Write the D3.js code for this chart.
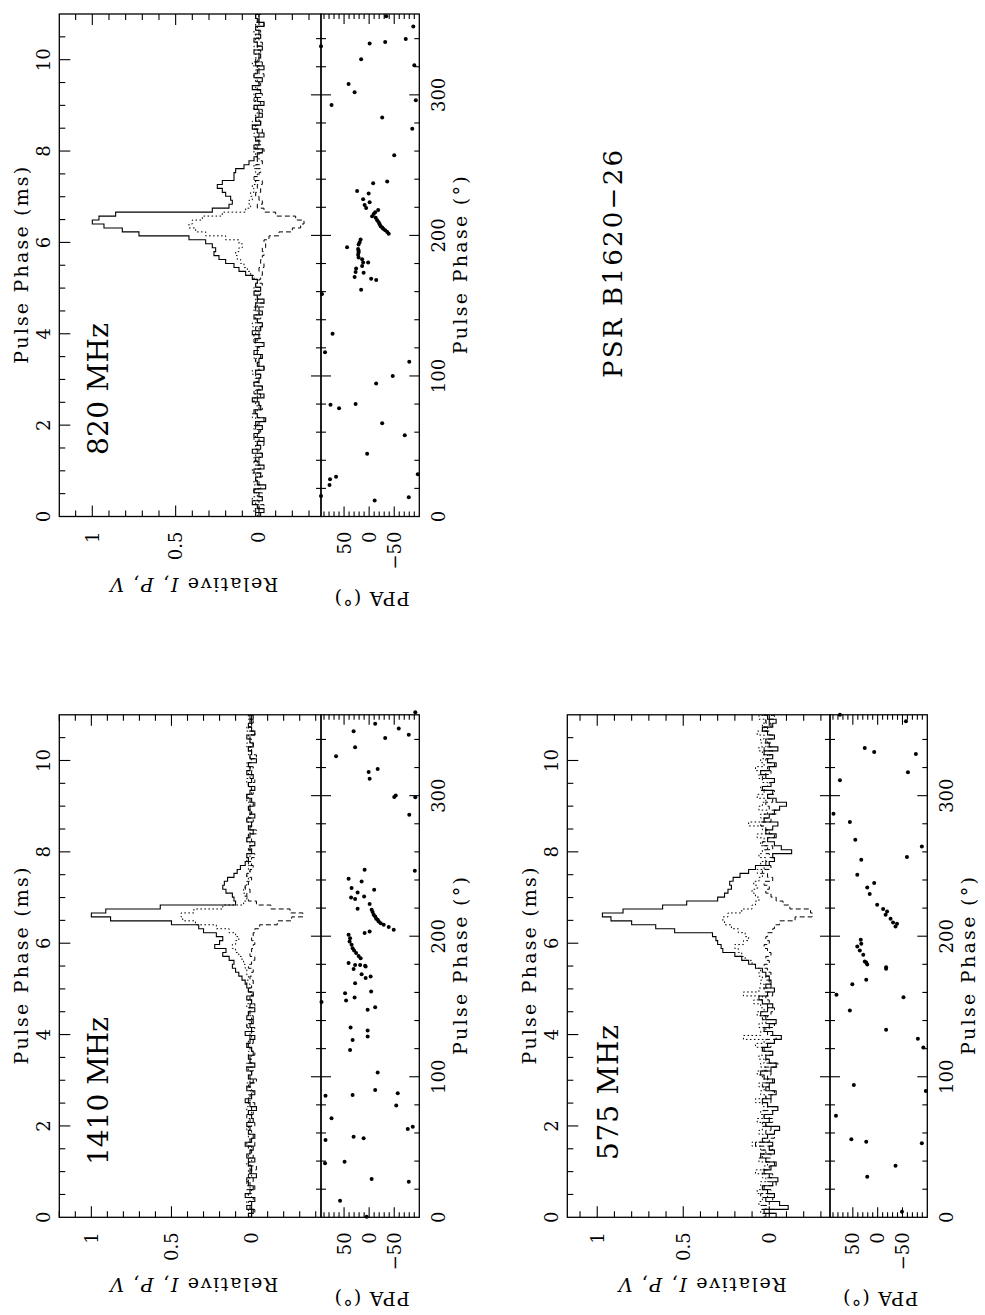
<!DOCTYPE html>
<html><head><meta charset="utf-8">
<script src="https://cdn.jsdelivr.net/npm/d3@7"></script>
<style>
body{margin:0;background:#fff}
text{font-family:"DejaVu Serif","Liberation Serif",serif;fill:#000}
</style>
</head><body>
<svg id="c" width="985" height="1315"></svg>
<script>
// ---------------- data ----------------
const PERIOD_MS = 11.076;          // pulsar period (ms) -> 360 deg
const NBINS = 128;                 // profile bins per period
const msTicks = [0,2,4,6,8,10];
const degTicks = [0,100,200,300];
const intTicks = [0,0.5,1];
const ppaTicks = [-50,0,50];
const freqLabels = ["820 MHz","1410 MHz","575 MHz"];
const title = "PSR B1620\u221226";

// profiles in percent of peak; I = total, L = linear, V = circular
const I820 = [
2,-3,1,4,-2,0,3,-4,1,2,-1,3,-3,0,2,-2,4,-1,1,-3,
3,0,-2,2,-4,1,3,-1,0,4,-3,1,-2,3,0,-1,2,-3,1,0,
-2,3,1,-3,2,0,4,-1,-2,1,3,-2,0,2,-3,1,3,-1,2,1,
4,8,12,15,20,24,27,26,28,32,42,72,82,93,100,96,86,28,18,16,
17,20,22,25,22,15,15,14,9,6,3,1,-2,3,0,2,-3,1,4,-1,
2,-2,0,3,-3,1,2,-1,4,0,-2,3,1,-3,2,0,-1,3,-2,1,
3,-1,0,2,-3,1,2,0];
const L820 = [
1,3,0,2,4,1,2,0,3,1,2,4,0,1,3,2,0,2,1,3,
2,0,3,1,2,4,1,0,2,3,1,2,0,3,1,2,4,0,1,2,
3,1,0,2,1,3,2,0,4,1,2,0,3,1,2,1,0,3,2,1,
3,5,7,9,11,13,14,12,10,12,20,32,38,42,40,34,22,8,5,6,
4,5,3,4,2,3,1,2,3,1,0,2,3,1,2,0,3,1,2,4,
0,2,1,3,0,2,3,1,2,0,1,3,2,0,4,1,2,0,3,1,
2,0,3,1,2,1,0,2];
const V820 = [
-1,2,-3,0,1,-2,3,-1,0,2,-2,1,-1,3,0,-2,1,2,-3,0,
1,-1,2,0,-3,1,2,-2,0,1,-1,3,-2,0,2,-1,1,-3,0,2,
-1,1,0,-2,3,-1,0,2,-2,1,-1,0,2,-3,1,0,-1,2,-2,0,
-1,-2,0,-3,-1,-2,-3,-2,-4,-3,-6,-12,-20,-25,-27,-22,-10,-3,1,-2,
0,2,-1,1,-2,3,0,-1,2,-2,1,0,-3,2,-1,1,0,-2,3,-1,
2,0,-2,1,-1,3,-2,0,1,-1,2,-3,0,1,-2,2,0,-1,1,-2,
0,2,-1,1,-3,0,2,-1];

const I1410 = [
2,-1,3,0,-2,4,1,-1,2,3,-3,1,0,2,-2,3,1,-1,4,0,
-2,2,1,3,-1,0,2,-3,1,4,0,-2,3,1,-1,2,0,3,-2,1,
2,-1,0,3,1,-2,4,0,1,-1,3,2,-2,1,0,3,-1,2,3,4,
6,8,10,12,11,14,18,16,23,20,18,22,30,33,50,88,100,91,57,10,
11,12,16,18,17,15,11,9,7,4,2,3,0,1,-2,3,1,-1,2,0,
3,-2,1,2,-1,0,3,1,-2,2,0,-1,3,1,2,-3,1,0,2,-1,
1,3,-2,0,2,1,-1,2];
const L1410 = [
1,2,0,3,1,2,0,1,3,2,0,2,1,3,0,2,1,0,3,1,
2,1,3,0,2,1,0,3,2,1,2,0,1,3,1,2,0,2,3,1,
0,2,1,3,2,0,1,2,3,1,0,2,1,3,2,1,0,2,1,3,
2,3,3,4,5,6,8,10,12,10,8,10,14,22,35,43,44,36,18,5,
3,4,5,4,3,2,3,1,2,0,3,1,2,0,1,3,2,1,0,2,
3,1,0,2,1,3,2,0,1,2,3,0,2,1,3,0,1,2,0,3,
1,2,0,3,1,0,2,1];
const V1410 = [
0,-2,1,2,-1,0,3,-2,1,-1,2,0,-3,1,2,-1,0,2,-2,1,
-1,0,2,-2,1,3,-1,0,-2,2,1,-1,0,2,-3,1,0,-1,2,0,
1,-2,0,2,-1,1,0,-2,3,0,-1,1,2,-2,0,1,-1,2,0,-1,
1,0,-1,2,0,-2,1,0,-1,-2,0,-1,-2,-5,-16,-25,-32,-24,-12,-3,
2,3,1,4,2,0,3,1,-1,2,0,-2,1,2,-1,0,2,-3,1,0,
-1,2,0,1,-2,1,3,-1,0,2,-2,1,0,-1,2,1,-3,0,2,-1,
0,1,-2,2,0,-1,1,0];

const I575 = [
-4,3,-11,-6,2,-3,1,4,-2,-5,
0,3,-1,-4,2,5,-3,0,-2,4,
1,-3,-6,2,0,3,-2,-5,1,4,
-1,-4,2,0,-3,3,5,-1,-4,0,
2,-2,4,1,-3,-7,-2,3,0,-4,
2,5,1,-2,4,6,1,-3,2,-1,
0,2,4,8,12,16,20,27,28,30,
31,33,55,66,80,92,97,85,62,48,
30,26,24,22,23,21,17,12,8,0,
-3,-2,-13,-7,-3,1,-4,2,-2,-5,
3,0,-3,-6,-10,-4,1,-2,4,-1,
-3,2,5,0,-4,1,-2,3,-5,0,
2,-3,1,4,-2,-4,1,3];
const L575 = [
3,5,2,6,4,1,7,3,5,2,
4,8,3,1,6,4,2,5,10,3,
1,6,4,2,7,3,5,1,4,8,
2,5,3,6,1,4,7,2,5,3,
6,2,4,8,3,15,5,2,6,4,
1,7,3,5,9,4,15,6,3,5,
4,6,5,8,10,14,16,18,20,15,
12,14,18,22,26,27,24,16,10,8,
6,8,10,7,9,6,4,7,3,5,
2,6,4,1,5,3,7,2,4,12,
3,5,1,6,4,2,7,3,5,1,
4,6,2,8,3,5,1,4,6,2,
5,3,7,1,4,2,6,3];
const V575 = [
2,-3,4,0,-2,5,-1,3,-4,1,
-2,4,0,-3,2,-1,5,-2,8,0,
-3,2,-1,4,-2,0,3,-4,1,-1,
2,-3,0,4,-2,1,-1,3,-5,2,
0,-2,3,-1,2,-4,1,0,-3,2,
4,-1,-3,1,0,2,-2,3,-1,0,
2,-1,1,3,0,2,-1,1,3,0,
2,1,-2,-3,-6,-15,-25,-24,-12,-8,
-4,-1,2,0,3,-2,1,4,-1,2,
-3,0,2,-2,4,1,-3,0,2,5,
-1,3,-4,0,2,-2,1,-3,3,0,
-2,4,-1,1,-3,2,0,-2,3,-1,
1,-2,0,3,-1,2,-3,0];

// PPA points: [pulse phase (deg), PPA (deg)]
const ppa820 = [[355.9,-34],[348.7,-88],[334.5,96],[339.8,-73],[336.6,-1],[337.6,-32],[321,-90],[325.3,16],[307.7,41],[301.9,29],[296.1,-93],[292.8,75],[283.9,-26],[275.9,-86],[257.1,-50],[237.1,-8],[238.3,-36],[231.6,24],[229.9,1],[225.8,12],[223.6,-1],[221.7,9],[219.5,6],[218.1,-18],[216.5,-12],[215.2,-9],[213.7,-6],[212.5,-13],[210.8,-16],[209.4,-19],[208,-21],[206.5,-23],[205.6,-26],[204.8,-28],[203.6,-32],[202.4,-36],[201.2,-39],[197.1,17],[195.2,19],[193.5,21],[191.6,44],[190.4,22],[189.2,21],[188,21],[186.3,22],[184.3,21],[183.1,14],[180.7,12],[180.7,2],[178.3,14],[176.4,26],[174,27],[173.5,11],[169.2,-4],[168.2,-14],[170.4,29],[161.4,16],[158.3,94],[130.1,73],[116.9,88],[110.1,-80],[100,-47],[94.7,-14],[79.5,77],[80,27],[77.1,60],[66.3,-26],[57.8,-71],[44.6,4],[26.5,78],[28.2,66],[22.4,79],[30.1,-97],[14.5,96],[11.3,-11],[13.7,-79]];
const ppa1410 = [[359.3,-92],[351.2,-12],[347.7,-59],[345.8,31],[343.4,-79],[341,-32],[334.4,28],[328,66],[316.8,1],[319,-17],[312,-1],[299,-50],[300.2,-53],[298.8,-92],[286.4,-80],[246.6,-91],[247.3,9],[240.9,41],[239,15],[234.3,35],[231.1,23],[227.6,36],[226.4,28],[228.3,10],[233,-10],[219.5,23],[223,-1],[218.8,-5],[217.2,-7],[215.2,-9],[214,-12],[212.4,-14],[211.7,-17],[210.5,-19],[209.3,-23],[208.1,-29],[206.5,-39],[204.6,-49],[203.4,-1],[202.2,9],[201,41],[198.6,38],[196.2,39],[193.9,35],[191.5,33],[189.8,30],[188,26],[186,21],[184.4,17],[180.9,41],[179.6,28],[178.9,8],[176.6,31],[179.6,18],[178.4,7],[173,15],[170.2,7],[171.3,-3],[166.6,28],[159.5,48],[154.2,46],[156.4,29],[160.6,-4],[147.6,3],[149.5,-12],[153.1,95],[135,37],[132.9,3],[128.6,3],[126.2,33],[119.1,38],[103,-17],[86.4,87],[87.1,33],[90.6,-12],[88.3,-57],[79.5,-54],[70.5,75],[62.9,-77],[64.5,-87],[55,87],[57.4,31],[56.2,11],[38.4,88],[39.6,49],[27.3,-5],[25.3,-79],[11.8,58],[0.4,5]];
const ppa575 = [[357.6,76],[352.9,-57],[333.9,26],[331.1,7],[329.7,-77],[316.6,-61],[310.9,76],[287.1,89],[281.2,56],[268.6,45],[263.9,-89],[254.4,33],[256.3,-59],[243.7,41],[234.7,21],[237.8,7],[230,16],[222.4,1],[219.3,-11],[217.6,-19],[215.2,-16],[212.4,-26],[209.8,-31],[208.8,-39],[206.9,-36],[197.4,34],[192.7,41],[194.6,33],[189.8,36],[186.8,29],[182,26],[178,-17],[181.3,23],[179.9,21],[176.8,-17],[165.9,51],[169,23],[158.3,83],[156.6,-52],[147.1,56],[133.4,-17],[127,-81],[120.8,-92],[94.2,48],[89.9,-97],[72.3,84],[55.5,53],[53.8,23],[52.7,-89],[36.7,-36],[28.9,21],[4,-49]];

// ---------------- layout (landscape coords, page rotated -90deg) ----------------
const W = 502.5;
const panels = [
  {key:"a", X0:798.5, pt:59.3, pm:321, pb:419.3, dom:[-0.372,1.198], I:I820, L:L820, V:V820, P:ppa820, label:freqLabels[0], lx:860, ly:108, lw:132},
  {key:"b", X0:97.7,  pt:59.3, pm:321, pb:419.3, dom:[-0.433,1.2],   I:I1410, L:L1410, V:V1410, P:ppa1410, label:freqLabels[1], lx:150, ly:108, lw:148},
  {key:"c", X0:97.7,  pt:567.3, pm:830, pb:927.3, dom:[-0.353,1.174], I:I575, L:L575, V:V575, P:ppa575, label:freqLabels[2], lx:155, ly:618, lw:135}
];

const svg = d3.select("#c");
svg.append("rect").attr("width",985).attr("height",1315).attr("fill","#fff");
const defs = svg.append("defs");
const root = svg.append("g").attr("transform","translate(0,1315) rotate(-90)");

function seg(g,x1,y1,x2,y2,w){
  g.append("line").attr("x1",x1).attr("y1",y1).attr("x2",x2).attr("y2",y2)
   .attr("stroke","#000").attr("stroke-width",w||1.1);
}

panels.forEach(cfg=>{
  const g = root.append("g");
  const x  = d3.scaleLinear().domain([0,11]).range([cfg.X0, cfg.X0+W]);
  const xd = d3.scaleLinear().domain([0,11*360/PERIOD_MS]).range([cfg.X0, cfg.X0+W]);
  const y  = d3.scaleLinear().domain(cfg.dom).range([cfg.pm, cfg.pt]);
  const yp = d3.scaleLinear().domain([-100,96]).range([cfg.pb, cfg.pm]);
  const X1 = cfg.X0+W;

  const cid = "clip"+cfg.key;
  defs.append("clipPath").attr("id",cid).append("rect")
    .attr("x",cfg.X0).attr("y",cfg.pt).attr("width",W).attr("height",cfg.pm-cfg.pt);

  const binMs = PERIOD_MS/NBINS;
  const pts = arr => { const p = arr.map((v,i)=>[i*binMs, v/100]); p.push([arr.length*binMs, arr[arr.length-1]/100]); return p; };
  const line = d3.line().x(d=>x(d[0])).y(d=>y(d[1])).curve(d3.curveStepAfter);
  const pg = g.append("g").attr("clip-path",`url(#${cid})`).attr("fill","none").attr("stroke","#000");
  pg.append("path").attr("d",line(pts(cfg.V))).attr("stroke-width",1).attr("stroke-dasharray","5,3");
  pg.append("path").attr("d",line(pts(cfg.L))).attr("stroke-width",1).attr("stroke-dasharray","1.6,2.4");
  pg.append("path").attr("d",line(pts(cfg.I))).attr("stroke-width",1.1);

  g.append("g").selectAll("circle").data(cfg.P).join("circle")
    .attr("cx",d=>xd(d[0])).attr("cy",d=>yp(d[1])).attr("r",2).attr("fill","#000");

  g.append("rect").attr("x",cfg.X0).attr("y",cfg.pt).attr("width",W).attr("height",cfg.pm-cfg.pt)
    .attr("fill","none").attr("stroke","#000").attr("stroke-width",1.3);
  g.append("rect").attr("x",cfg.X0).attr("y",cfg.pm).attr("width",W).attr("height",cfg.pb-cfg.pm)
    .attr("fill","none").attr("stroke","#000").attr("stroke-width",1.3);

  d3.range(0.5, 11, 0.5).forEach(v=>{
    const maj = Math.abs(v/2-Math.round(v/2))<1e-6;
    seg(g, x(v), cfg.pt, x(v), cfg.pt+(maj?11:6));
  });
  d3.range(Math.ceil(cfg.dom[0]*10), Math.floor(cfg.dom[1]*10)+1).map(k=>k/10).forEach(v=>{
    const maj = Math.abs(v*2-Math.round(v*2))<1e-6;
    const L = maj?11:6;
    seg(g, cfg.X0, y(v), cfg.X0+L, y(v));
    seg(g, X1, y(v), X1-L, y(v));
  });
  d3.range(20, 357, 20).forEach(v=>{
    const maj = v%100===0;
    const L = maj?10:5;
    seg(g, xd(v), cfg.pm-L, xd(v), cfg.pm+L);
    seg(g, xd(v), cfg.pb, xd(v), cfg.pb-L);
  });
  d3.range(-90, 96, 10).forEach(v=>{
    const L = v%50===0?10:5;
    seg(g, cfg.X0, yp(v), cfg.X0+L, yp(v));
    seg(g, X1, yp(v), X1-L, yp(v));
  });

  const fs = 18;
  g.append("g").selectAll("text").data(msTicks).join("text")
    .attr("x",d=>x(d)).attr("y",cfg.pt-9.3).attr("text-anchor","middle").attr("font-size",fs).text(d=>d);
  g.append("g").selectAll("text").data(degTicks).join("text")
    .attr("x",d=>xd(d)).attr("y",cfg.pb+26).attr("text-anchor","middle").attr("font-size",fs).text(d=>d);
  g.append("g").selectAll("text").data(intTicks).join("text")
    .attr("x",cfg.X0-15).attr("y",d=>y(d)).attr("dy","0.36em").attr("text-anchor","end").attr("font-size",fs).text(d=>d);
  g.append("g").selectAll("text").data(ppaTicks).join("text")
    .attr("x",cfg.X0-15).attr("y",d=>yp(d)).attr("dy","0.36em").attr("text-anchor","end").attr("font-size",fs)
    .text(d=>d<0?"\u2212"+Math.abs(d):d);

  g.append("text").attr("x",cfg.X0+W/2).attr("y",cfg.pt-31).attr("text-anchor","middle")
    .attr("font-size",19).attr("textLength",197).attr("lengthAdjust","spacing").text("Pulse Phase (ms)");
  g.append("text").attr("x",cfg.X0+W/2).attr("y",cfg.pb+48).attr("text-anchor","middle")
    .attr("font-size",19).attr("textLength",178).attr("lengthAdjust","spacing").text("Pulse Phase (\u00b0)");
  const rl = g.append("text").attr("transform",`translate(${cfg.X0-61},${(cfg.pt+cfg.pm)/2+4}) rotate(-90)`)
    .attr("text-anchor","middle").attr("font-size",19).attr("textLength",168).attr("lengthAdjust","spacing");
  rl.append("tspan").text("Relative ");
  rl.append("tspan").attr("font-style","italic").text("I");
  rl.append("tspan").text(", ");
  rl.append("tspan").attr("font-style","italic").text("P");
  rl.append("tspan").text(", ");
  rl.append("tspan").attr("font-style","italic").text("V");
  g.append("text").attr("transform",`translate(${cfg.X0-75},${(cfg.pm+cfg.pb)/2+2}) rotate(-90)`)
    .attr("text-anchor","middle").attr("font-size",19).attr("textLength",75).attr("lengthAdjust","spacing").text("PPA (\u00b0)");

  g.append("text").attr("x",cfg.lx).attr("y",cfg.ly).attr("font-size",28)
    .attr("textLength",cfg.lw).attr("lengthAdjust","spacing").text(cfg.label);
});

root.append("text").attr("x",937).attr("y",622).attr("font-size",26)
  .attr("textLength",228).attr("lengthAdjust","spacing").text(title);
</script>
</body></html>
